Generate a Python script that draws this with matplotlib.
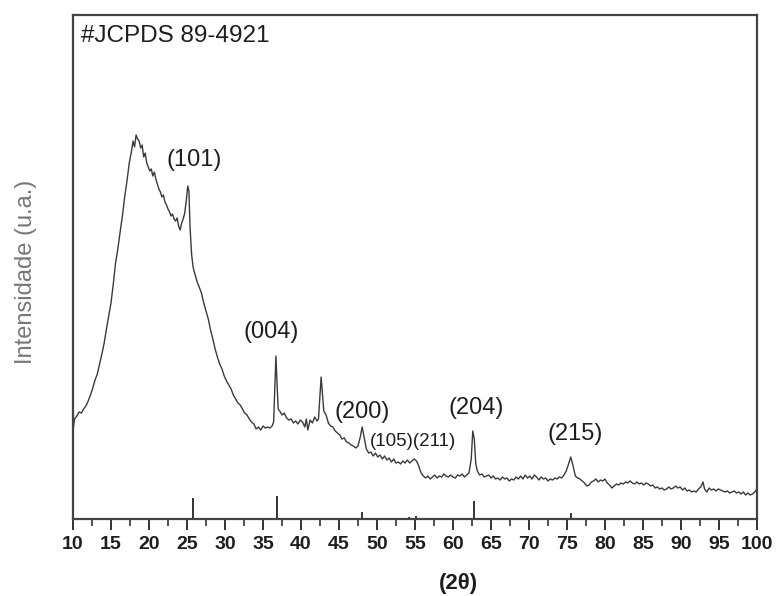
import matplotlib
matplotlib.use("Agg")
import matplotlib.pyplot as plt
from matplotlib.ticker import MultipleLocator

plt.rcParams["font.family"] = ["Liberation Sans", "DejaVu Sans"]

# ── XRD pattern ──────────────────────────────────────────────────────────────
two_theta = [
    10.0, 10.2, 10.5, 10.8, 11.1, 11.4, 11.7, 12.0, 12.3, 12.6, 12.9, 13.2, 13.5, 13.8,
    14.1, 14.4, 14.7, 15.0, 15.3, 15.6, 15.9, 16.2, 16.5, 16.8, 17.1, 17.4, 17.7, 17.9,
    18.1, 18.3, 18.5, 18.7, 18.9, 19.1, 19.3, 19.5, 19.7, 19.9, 20.1, 20.3, 20.5, 20.7,
    20.9, 21.1, 21.3, 21.5, 21.7, 21.9, 22.1, 22.3, 22.5, 22.7, 22.9, 23.1, 23.3, 23.5,
    23.7, 23.9, 24.1, 24.3, 24.5, 24.7, 24.9, 25.1, 25.25, 25.4, 25.6, 25.8, 26.0, 26.3,
    26.6, 26.9, 27.2, 27.5, 27.8, 28.1, 28.4, 28.7, 29.0, 29.3, 29.6, 29.9, 30.2, 30.5,
    30.8, 31.1, 31.4, 31.7, 32.0, 32.3, 32.6, 32.9, 33.2, 33.5, 33.8, 34.1, 34.4, 34.7,
    35.0, 35.3, 35.6, 35.9, 36.2, 36.4, 36.55, 36.7, 36.85, 37.0, 37.2, 37.5, 37.8, 38.1,
    38.4, 38.7, 39.0, 39.3, 39.6, 39.9, 40.2, 40.5, 40.7, 40.9, 41.2, 41.5, 41.8, 42.1,
    42.3, 42.5, 42.65, 42.8, 43.0, 43.3, 43.6, 43.9, 44.2, 44.5, 44.8, 45.1, 45.4, 45.7,
    46.0, 46.3, 46.6, 46.9, 47.2, 47.5, 47.8, 48.05, 48.3, 48.6, 48.9, 49.2, 49.5, 49.8,
    50.1, 50.4, 50.7, 51.0, 51.3, 51.6, 51.9, 52.2, 52.5, 52.8, 53.1, 53.4, 53.7, 54.0,
    54.3, 54.6, 54.9, 55.2, 55.5, 55.8, 56.1, 56.4, 56.7, 57.0, 57.3, 57.6, 57.9, 58.2,
    58.5, 58.8, 59.1, 59.4, 59.7, 60.0, 60.3, 60.6, 60.9, 61.2, 61.5, 61.8, 62.1, 62.4,
    62.6, 62.8, 63.0, 63.2, 63.5, 63.8, 64.1, 64.4, 64.7, 65.0, 65.3, 65.6, 65.9, 66.2,
    66.5, 66.8, 67.1, 67.4, 67.7, 68.0, 68.3, 68.6, 68.9, 69.2, 69.5, 69.8, 70.1, 70.4,
    70.7, 71.0, 71.3, 71.6, 71.9, 72.2, 72.5, 72.8, 73.1, 73.4, 73.7, 74.0, 74.3, 74.6,
    74.9, 75.2, 75.5, 75.8, 76.1, 76.4, 76.7, 77.0, 77.3, 77.6, 77.9, 78.2, 78.5, 78.8,
    79.1, 79.4, 79.7, 80.0, 80.3, 80.6, 80.9, 81.2, 81.5, 81.8, 82.1, 82.4, 82.7, 83.0,
    83.3, 83.6, 83.9, 84.2, 84.5, 84.8, 85.1, 85.4, 85.7, 86.0, 86.3, 86.6, 86.9, 87.2,
    87.5, 87.8, 88.1, 88.4, 88.7, 89.0, 89.3, 89.6, 89.9, 90.2, 90.5, 90.8, 91.1, 91.4,
    91.7, 92.0, 92.3, 92.6, 92.9, 93.1, 93.4, 93.7, 94.0, 94.3, 94.6, 94.9, 95.2, 95.5,
    95.8, 96.1, 96.4, 96.7, 97.0, 97.3, 97.6, 97.9, 98.2, 98.5, 98.8, 99.1, 99.4, 99.7,
    100.0,
]
intensity = [
    88, 100, 103, 107, 106, 110, 113, 118, 124, 131, 139, 145, 155, 165,
    176, 190, 203, 216, 235, 256, 270, 287, 303, 322, 338, 356, 368, 378,
    372, 384, 380, 378, 371, 374, 362, 366, 356, 352, 348, 350, 343, 347,
    340, 335, 330, 327, 322, 324, 317, 314, 310, 307, 303, 305, 300, 298,
    301, 293, 289, 296, 300, 306, 318, 333, 328, 292, 265, 252, 246, 238,
    232, 226, 216, 208, 200, 189, 180, 170, 162, 155, 150, 143, 138, 134,
    130, 124, 120, 116, 114, 110, 106, 104, 100, 97, 95, 90, 92, 89,
    93, 91, 92, 91, 93, 97, 130, 163, 135, 110, 108, 104, 106, 101,
    99, 100, 96, 98, 95, 99, 97, 92, 100, 89, 99, 96, 102, 98,
    100, 125, 142, 128, 108, 104, 96, 93, 92, 88, 86, 84, 80, 81,
    77, 76, 74, 73, 71, 73, 82, 92, 82, 70, 66, 67, 63, 66,
    62, 64, 60, 63, 59, 61, 57, 60, 56, 57, 55, 58, 56, 59,
    56, 58, 60, 58, 53, 46, 43, 41, 43, 40, 42, 44, 41, 43,
    42, 45, 43, 42, 44, 42, 41, 44, 43, 45, 42, 44, 46, 60,
    88, 80, 55, 48, 44, 45, 42, 43, 44, 41, 43, 40, 41, 39,
    42, 40, 41, 38, 40, 39, 42, 40, 43, 40, 44, 41, 43, 40,
    44, 42, 39, 42, 40, 41, 38, 40, 39, 41, 40, 42, 41, 44,
    48, 55, 62, 53, 43, 41, 40, 38, 36, 33, 34, 37, 38, 40,
    37, 39, 38, 40, 36, 34, 31, 33, 35, 34, 36, 35, 37, 36,
    38, 36, 35, 37, 35, 36, 34, 36, 35, 33, 34, 31, 32, 30,
    31, 29, 30, 32, 30, 31, 33, 31, 32, 29, 31, 28, 29, 27,
    28, 27, 30, 32, 37, 30, 27, 31, 29, 30, 28, 30, 29, 28,
    27, 28, 26, 27, 28, 26, 27, 25, 27, 24, 26, 24, 25, 27,
    30,
]

# JCPDS 89-4921 reference sticks
stick_pos = [25.75, 36.8, 48.0, 54.2, 55.1, 62.75, 75.5]
stick_h = [21, 23, 7, 2, 3, 18, 6]

# Miller index labels
hkl_text = ["(101)", "(004)", "(200)", "(105)(211)", "(204)", "(215)"]
hkl_x = [25.9, 36.05, 48.0, 54.7, 63.0, 76.05]
hkl_y = [359, 187, 107, 78, 111, 85]
hkl_size = [17, 17, 17, 13.5, 17, 17]

fig = plt.figure(figsize=(7.77, 5.96), dpi=100)
ax = fig.add_axes([73 / 777, 77 / 596, 684 / 777, 504 / 596])

ax.plot(two_theta, intensity, color="#3a3a3a", linewidth=1.0)
ax.vlines(stick_pos, 0, stick_h, color="#333333", linewidth=1.4)

for t, x, y, s in zip(hkl_text, hkl_x, hkl_y, hkl_size):
    ax.text(x, y, t, ha="center", va="center", fontsize=s, color="#1e1e1e")

ax.text(0.011, 0.958, "#JCPDS 89-4921", transform=ax.transAxes, ha="left",
        va="center", fontsize=17.5, color="#1e1e1e")

ax.set_xlim(10, 100)
ax.set_ylim(0, 504)
ax.xaxis.set_major_locator(MultipleLocator(5))
ax.xaxis.set_minor_locator(MultipleLocator(2.5))
ax.tick_params(axis="x", which="major", direction="out", length=8, width=1.4,
               labelsize=14, pad=4, color="#333333")
ax.tick_params(axis="x", which="minor", direction="out", length=5, width=1.2,
               color="#333333")
for lab in ax.get_xticklabels():
    lab.set_fontweight("bold")
    lab.set_color("#1e1e1e")
ax.set_yticks([])

for side in ["left", "right", "top", "bottom"]:
    ax.spines[side].set_linewidth(1.6)
    ax.spines[side].set_color("#444444")

# axis titles, placed where the reference has them
ax.set_xlabel("(2θ)", fontsize=16, fontweight="bold", color="#1e1e1e")
ax.xaxis.set_label_coords((458 - 73) / 684, -(573 - 519) / 504)
ax.set_ylabel("Intensidade (u.a.)", fontsize=17, color="#777777")
ax.yaxis.set_label_coords(-(73 - 37) / 684, (519 - 272) / 504)

fig.savefig("out.png", dpi=100, facecolor="white")
